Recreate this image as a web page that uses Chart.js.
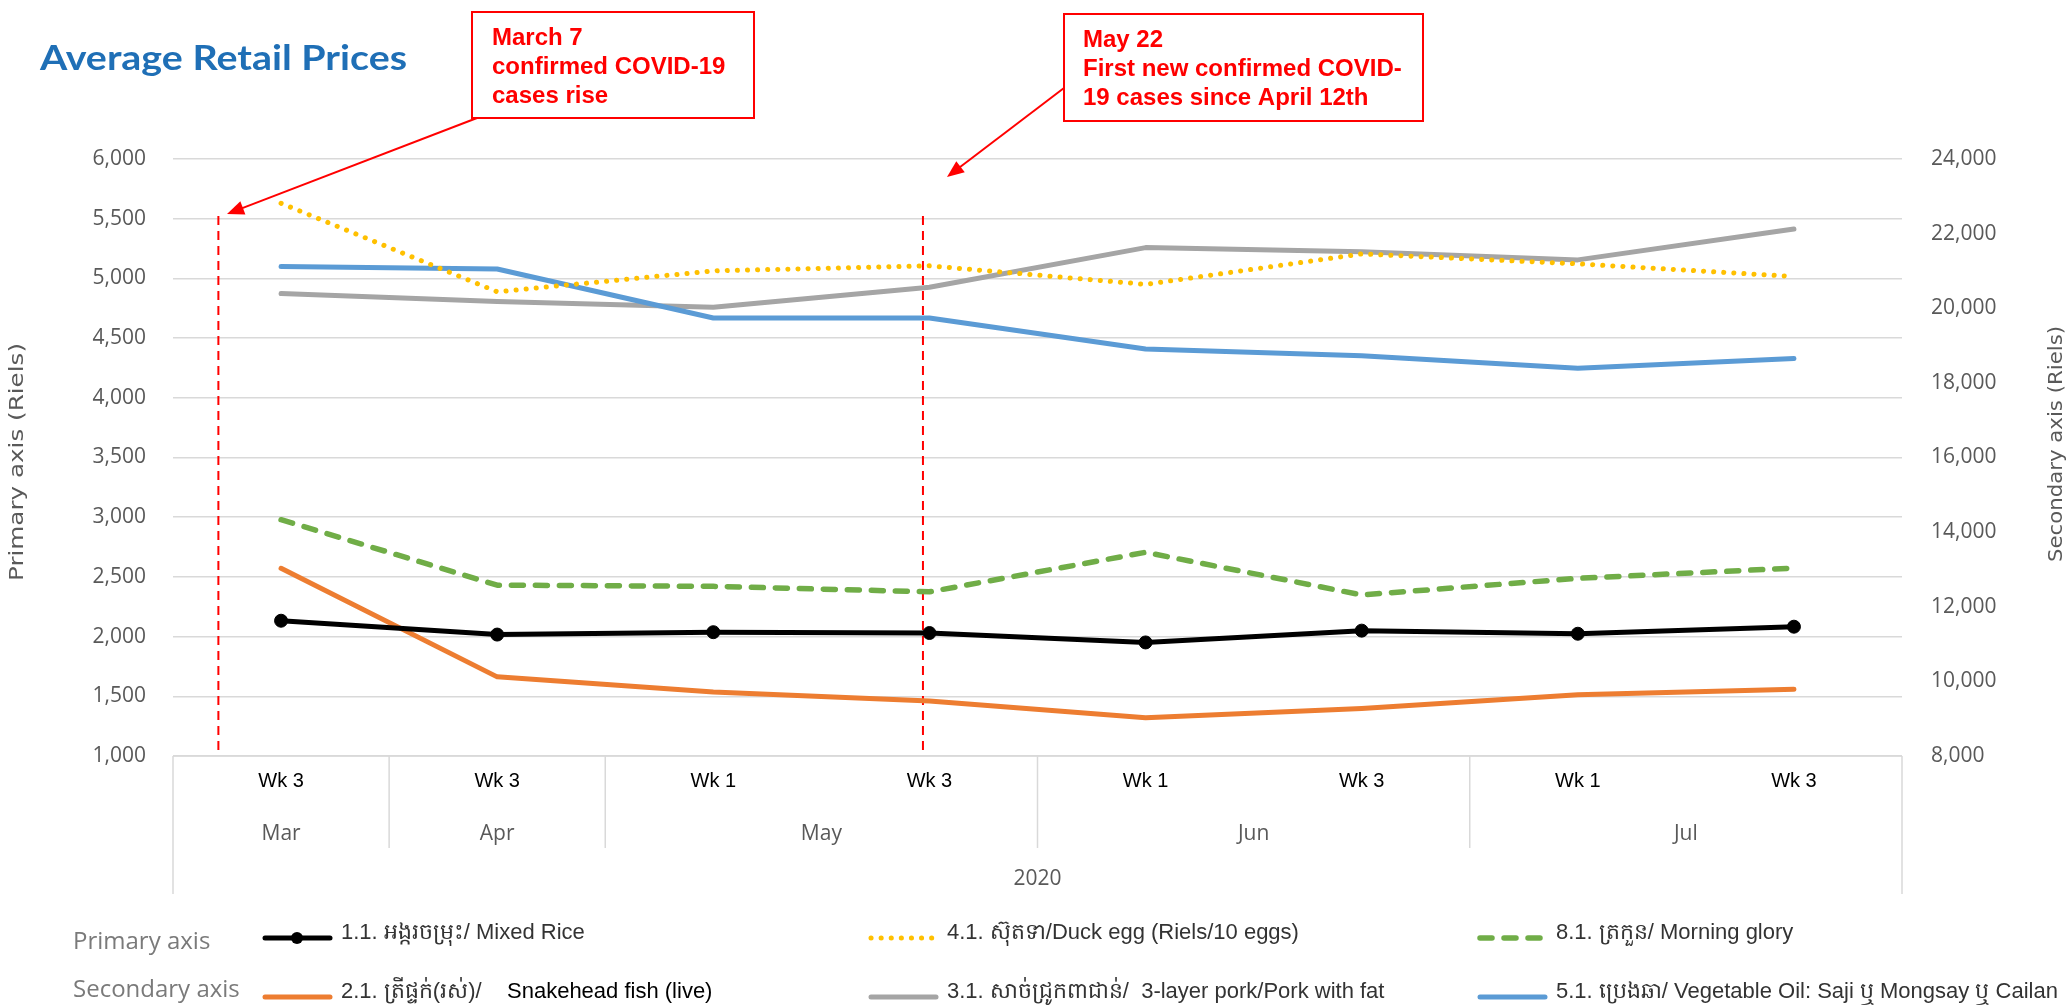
<!DOCTYPE html>
<html>
<head>
<meta charset="utf-8">
<script src="https://cdn.jsdelivr.net/npm/chart.js@4.4.0/dist/chart.umd.min.js"></script>
<style>
  html, body { margin: 0; padding: 0; background: #fff; }
  canvas { display: block; }
</style>
</head>
<body>
<canvas id="chart" width="2071" height="1007"></canvas>
<script>
// categories
const weeks = ['Wk 3', 'Wk 3', 'Wk 1', 'Wk 3', 'Wk 1', 'Wk 3', 'Wk 1', 'Wk 3'];
const months = ['Mar', 'Apr', 'May', 'Jun', 'Jul'];
const monthSpans = [1, 1, 2, 2, 2];
const year = '2020';

// primary axis series (Riels)
const mixedRice = [2133, 2017, 2037, 2030, 1951, 2050, 2024, 2083];
const duckEgg = [5629, 4888, 5063, 5105, 4950, 5205, 5122, 5016];
const morningGlory = [2979, 2431, 2421, 2375, 2706, 2349, 2488, 2574];

// secondary axis series (Riels)
const snakehead = [13030, 10121, 9718, 9474, 9028, 9272, 9643, 9792];
const pork = [20395, 20183, 20024, 20565, 21625, 21515, 21296, 22123];
const vegOil = [21116, 21052, 19738, 19738, 18910, 18730, 18391, 18656];

// axis ranges
const primaryAxis = { min: 1000, max: 6000, step: 500 };
const secondaryAxis = { min: 8000, max: 24000, step: 2000 };

// event markers, as positions along the week axis
const events = [
  { pos: -0.29, lines: ['March 7', 'confirmed COVID-19', 'cases rise'] },
  { pos: 2.97, lines: ['May 22', 'First new confirmed COVID-', '19 cases since April 12th'] }
];

const RED = '#FF0000';
const GRID = '#D9D9D9';
const TICK = '#595959';

function arrow(ctx, x1, y1, x2, y2) {
  const a = Math.atan2(y2 - y1, x2 - x1);
  const len = 17, half = 7;
  ctx.beginPath();
  ctx.moveTo(x1, y1);
  ctx.lineTo(x2 - Math.cos(a) * len * 0.8, y2 - Math.sin(a) * len * 0.8);
  ctx.stroke();
  ctx.beginPath();
  ctx.moveTo(x2, y2);
  ctx.lineTo(x2 - Math.cos(a) * len + Math.sin(a) * half, y2 - Math.sin(a) * len - Math.cos(a) * half);
  ctx.lineTo(x2 - Math.cos(a) * len - Math.sin(a) * half, y2 - Math.sin(a) * len + Math.cos(a) * half);
  ctx.closePath();
  ctx.fill();
}

// vertical text, stretched along its run to a given length
function sideTitle(ctx, text, cx, cy, len) {
  ctx.save();
  ctx.translate(cx, cy);
  ctx.rotate(-Math.PI / 2);
  const w = ctx.measureText(text).width;
  ctx.scale(len / w, 1);
  ctx.fillText(text, 0, 0);
  ctx.restore();
}

const decor = {
  id: 'decor',
  beforeDatasetsDraw(chart) {
    const { ctx, chartArea, scales: { x } } = chart;
    ctx.save();
    ctx.strokeStyle = RED;
    ctx.lineWidth = 2;
    ctx.setLineDash([9, 6]);
    events.forEach(ev => {
      const px = x.getPixelForValue(ev.pos);
      ctx.beginPath();
      ctx.moveTo(px, 216);
      ctx.lineTo(px, chartArea.bottom);
      ctx.stroke();
    });
    ctx.restore();
  },
  afterDraw(chart) {
    const { ctx, chartArea, scales: { x } } = chart;
    ctx.save();

    // title
    ctx.fillStyle = '#1F6FB6';
    ctx.font = 'bold 34px Lato';
    ctx.textBaseline = 'alphabetic';
    ctx.textAlign = 'left';
    const tw = ctx.measureText('Average Retail Prices').width;
    ctx.save();
    ctx.translate(40, 70);
    ctx.scale(367 / tw, 1);
    ctx.fillText('Average Retail Prices', 0, 0);
    ctx.restore();

    // annotation boxes and arrows
    const boxes = [
      { x: 472, y: 12, w: 282, h: 106, tx: 492, base: [45, 74, 103], from: [477, 118], to: [227, 214] },
      { x: 1064, y: 14, w: 359, h: 107, tx: 1083, base: [47, 76, 105], from: [1064, 88], to: [947, 177] }
    ];
    boxes.forEach((b, i) => {
      ctx.fillStyle = '#fff';
      ctx.fillRect(b.x, b.y, b.w, b.h);
      ctx.strokeStyle = RED;
      ctx.lineWidth = 2;
      ctx.strokeRect(b.x, b.y, b.w, b.h);
      ctx.fillStyle = RED;
      ctx.font = 'bold 24px "Liberation Sans"';
      events[i].lines.forEach((t, j) => ctx.fillText(t, b.tx, b.base[j]));
      ctx.lineWidth = 2;
      arrow(ctx, b.from[0], b.from[1], b.to[0], b.to[1]);
    });

    // multi-level category axis
    const top = chartArea.bottom;
    ctx.strokeStyle = GRID;
    ctx.lineWidth = 1.5;
    ctx.beginPath();
    ctx.moveTo(chartArea.left, top);
    ctx.lineTo(chartArea.right, top);
    ctx.stroke();

    ctx.textAlign = 'center';
    ctx.textBaseline = 'middle';
    ctx.fillStyle = '#000';
    ctx.font = '20px "Liberation Sans"';
    weeks.forEach((w, i) => ctx.fillText(w, x.getPixelForValue(i), top + 25));

    let start = 0;
    const edges = [];
    months.forEach((m, i) => {
      const l = x.getPixelForValue(start - 0.5);
      const r = x.getPixelForValue(start + monthSpans[i] - 0.5);
      edges.push(l);
      ctx.fillStyle = TICK;
      ctx.font = '21px "Open Sans"';
      ctx.fillText(m, (l + r) / 2, top + 78);
      start += monthSpans[i];
      if (i === months.length - 1) edges.push(r);
    });
    edges.forEach((e, i) => {
      const outer = i === 0 || i === edges.length - 1;
      ctx.beginPath();
      ctx.moveTo(e, top);
      ctx.lineTo(e, top + (outer ? 138 : 92));
      ctx.stroke();
    });
    ctx.fillStyle = TICK;
    ctx.font = '21px "Open Sans"';
    ctx.fillText(year, (chartArea.left + chartArea.right) / 2, top + 123);

    // axis titles
    ctx.font = '20px "DejaVu Sans"';
    sideTitle(ctx, 'Primary axis (Riels)', 18, 462, 238);
    sideTitle(ctx, 'Secondary axis (Riels)', 2057, 444, 236);

    // legend
    const rows = [
      { label: 'Primary axis', y: 938, ty: 942, items: [0, 1, 2] },
      { label: 'Secondary axis', y: 997, ty: 990, items: [3, 4, 5] }
    ];
    const cols = [262, 868, 1477];
    rows.forEach(row => {
      ctx.textAlign = 'left';
      ctx.fillStyle = '#7A7A7A';
      ctx.font = '24px "Open Sans"';
      ctx.fillText(row.label, 73, row.ty);
      row.items.forEach((di, c) => {
        const ds = chart.data.datasets[di];
        const x0 = cols[c];
        ctx.save();
        ctx.strokeStyle = ds.borderColor;
        ctx.lineWidth = ds.borderWidth;
        ctx.lineCap = 'round';
        ctx.setLineDash(ds.borderDash || []);
        ctx.beginPath();
        ctx.moveTo(x0 + 3, row.y);
        ctx.lineTo(x0 + 68, row.y);
        ctx.stroke();
        if (ds.pointRadius) {
          ctx.fillStyle = ds.borderColor;
          ctx.beginPath();
          ctx.arc(x0 + 35, row.y, 6, 0, Math.PI * 2);
          ctx.fill();
        }
        ctx.restore();
        ctx.font = '22px "Liberation Sans"';
        ctx.textBaseline = 'middle';
        const parts = ds.label.split('   ');
        ctx.fillStyle = '#333';
        ctx.fillText(parts[0], x0 + 79, row.y - 5);
        if (parts[1]) {
          ctx.fillStyle = '#000';
          ctx.fillText(parts[1], 507, row.y - 5);
        }
      });
    });
    ctx.restore();
  }
};

const commas = v => v.toLocaleString('en-US');

new Chart(document.getElementById('chart'), {
  type: 'line',
  data: {
    labels: weeks,
    datasets: [
      { label: '1.1. អង្ករចម្រុះ/ Mixed Rice', data: mixedRice, yAxisID: 'y',
        borderColor: '#000000', backgroundColor: '#000000', borderWidth: 5,
        pointRadius: 6.5, pointBackgroundColor: '#000000', pointBorderColor: '#000000', pointBorderWidth: 1, order: 1 },
      { label: '4.1. ស៊ុតទា/Duck egg (Riels/10 eggs)', data: duckEgg, yAxisID: 'y',
        borderColor: '#FFC000', borderWidth: 5, borderDash: [0.1, 10], borderCapStyle: 'round',
        pointRadius: 0, order: 2 },
      { label: '8.1. ត្រកួន/ Morning glory', data: morningGlory, yAxisID: 'y',
        borderColor: '#70AD47', borderWidth: 5.5, borderDash: [12, 12], borderCapStyle: 'round',
        pointRadius: 0, order: 3 },
      { label: '2.1. ត្រីផ្ទក់(រស់)/   Snakehead fish (live)', data: snakehead, yAxisID: 'y1',
        borderColor: '#ED7D31', borderWidth: 5, borderCapStyle: 'round', pointRadius: 0, order: 6 },
      { label: '3.1. សាច់ជ្រូកពាជាន់/  3-layer pork/Pork with fat', data: pork, yAxisID: 'y1',
        borderColor: '#A5A5A5', borderWidth: 5, borderCapStyle: 'round', pointRadius: 0, order: 5 },
      { label: '5.1. ប្រេងឆា/ Vegetable Oil: Saji ឬ Mongsay ឬ Cailan', data: vegOil, yAxisID: 'y1',
        borderColor: '#5B9BD5', borderWidth: 5, borderCapStyle: 'round', pointRadius: 0, order: 4 }
    ]
  },
  options: {
    responsive: false,
    animation: false,
    events: [],
    layout: { padding: { top: 159, bottom: 251, left: 0, right: 0 } },
    elements: { line: { tension: 0, borderJoinStyle: 'round' } },
    plugins: {
      legend: { display: false },
      tooltip: { enabled: false },
      title: { display: false }
    },
    scales: {
      x: {
        display: false,
        offset: true,
        grid: { display: false }
      },
      y: {
        position: 'left',
        min: primaryAxis.min,
        max: primaryAxis.max,
        afterFit: s => { s.width = 173; },
        border: { display: false },
        grid: { color: GRID, lineWidth: 1.5, drawTicks: false },
        ticks: {
          stepSize: primaryAxis.step,
          padding: 27,
          color: TICK,
          font: { family: 'Open Sans', size: 21 },
          callback: commas
        }
      },
      y1: {
        position: 'right',
        min: secondaryAxis.min,
        max: secondaryAxis.max,
        afterFit: s => { s.width = 169; },
        border: { display: false },
        grid: { drawOnChartArea: false, drawTicks: false },
        ticks: {
          stepSize: secondaryAxis.step,
          padding: 29,
          color: TICK,
          font: { family: 'Open Sans', size: 21 },
          callback: commas
        }
      }
    }
  },
  plugins: [decor]
});
</script>
</body>
</html>
